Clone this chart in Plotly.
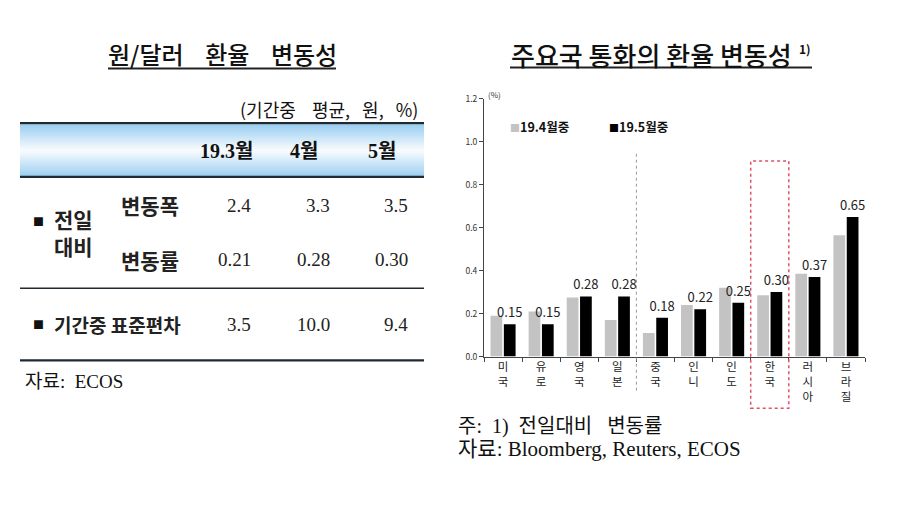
import plotly.graph_objects as go

# ---------------- data ----------------
categories = ["미국", "유로", "영국", "일본", "중국", "인니", "인도", "한국", "러시아", "브라질"]
apr_values = [0.19, 0.21, 0.275, 0.17, 0.11, 0.24, 0.32, 0.285, 0.385, 0.565]
may_values = [0.15, 0.15, 0.28, 0.28, 0.18, 0.22, 0.25, 0.30, 0.37, 0.65]
series_names = ["19.4월중", "19.5월중"]
y_ticks = [0.0, 0.2, 0.4, 0.6, 0.8, 1.0, 1.2]

table_cols = ["19.3월", "4월", "5월"]
row_labels = ["변동폭", "변동률", "기간중 표준편차"]
row_values = [["2.4", "3.3", "3.5"], ["0.21", "0.28", "0.30"], ["3.5", "10.0", "9.4"]]

W, H = 900, 507
KR = "Noto Sans CJK KR"
SERIF = "Liberation Serif, Noto Sans CJK KR"


def px(x):
    return x / W


def py(y):
    return 1 - y / H


# plot area (pixels)
PL, PR, PT, PB = 484, 865, 94, 358
xdom = [px(PL), px(PR)]
ydom = [py(PB), py(PT)]
ymax = 1.2


def cat_x(i):
    return xdom[0] + (i + 0.5) / len(categories) * (xdom[1] - xdom[0])


def val_y(v):
    return ydom[0] + v / ymax * (ydom[1] - ydom[0])


fig = go.Figure()
fig.add_trace(go.Bar(x=categories, y=apr_values, name=series_names[0],
                     marker=dict(color="#c3c3c3", line=dict(width=0)), showlegend=False))
fig.add_trace(go.Bar(x=categories, y=may_values, name=series_names[1],
                     marker=dict(color="#000000", line=dict(width=0)), showlegend=False,
                     text=[f"{v:.2f}" for v in may_values], textposition="outside",
                     textfont=dict(family=KR, size=13, color="#222"),
                     constraintext="none", cliponaxis=False))

shapes = []
ann = []

# ---------- right chart decorations ----------
div_x = (cat_x(3) + cat_x(4)) / 2
shapes.append(dict(type="line", xref="paper", yref="paper", x0=div_x, x1=div_x,
                   y0=py(393), y1=val_y(0.945),
                   line=dict(color="#999", width=1, dash="dot")))
k = categories.index("한국")
bx0 = (cat_x(k - 1) + cat_x(k)) / 2
bx1 = (cat_x(k) + cat_x(k + 1)) / 2
shapes.append(dict(type="rect", xref="paper", yref="paper", x0=bx0, x1=bx1,
                   y0=py(411), y1=val_y(0.91),
                   line=dict(color="#e0506a", width=1.5, dash="dot")))

# legend (as text)
ann.append(dict(xref="paper", yref="paper", x=px(508), y=py(122), xanchor="left", yanchor="middle",
                text="<span style='color:#c3c3c3;font-size:10px'>■</span>" + series_names[0], showarrow=False,
                font=dict(family=KR, size=12.5, color="#111", weight="bold")))
ann.append(dict(xref="paper", yref="paper", x=px(607), y=py(122), xanchor="left", yanchor="middle",
                text="<span style='color:#000;font-size:10px'>■</span>" + series_names[1], showarrow=False,
                font=dict(family=KR, size=12.5, color="#111", weight="bold")))
ann.append(dict(xref="paper", yref="paper", x=px(486), y=py(90), xanchor="left", yanchor="middle",
                text="(%)", showarrow=False, font=dict(family=KR, size=8, color="#333")))

# right title
ann.append(dict(xref="paper", yref="paper", x=px(509), y=py(49), xanchor="left", yanchor="middle",
                text="주요국 통화의 환율 변동성",
                showarrow=False, font=dict(family=KR, size=26, color="#111", weight=500)))
ann.append(dict(xref="paper", yref="paper", x=px(797), y=py(42), xanchor="left", yanchor="middle",
                text="1)", showarrow=False, font=dict(family=KR, size=12, color="#111", weight="bold")))
shapes.append(dict(type="line", xref="paper", yref="paper", x0=px(510), x1=px(812),
                   y0=py(62), y1=py(62), line=dict(color="#222", width=2)))

# right notes
ann.append(dict(xref="paper", yref="paper", x=px(456), y=py(430), xanchor="left", yanchor="middle",
                text="주:&nbsp; 1)&nbsp; 전일대비&nbsp;&nbsp; 변동률", showarrow=False,
                font=dict(family=SERIF, size=20, color="#111")))
ann.append(dict(xref="paper", yref="paper", x=px(456), y=py(453), xanchor="left", yanchor="middle",
                text="자료: Bloomberg, Reuters, ECOS", showarrow=False,
                font=dict(family=SERIF, size=21, color="#111")))

# ---------- left table ----------
ann.append(dict(xref="paper", yref="paper", x=px(222), y=py(48), xanchor="center", yanchor="middle",
                text="원/달러&nbsp;&nbsp;&nbsp; 환율&nbsp;&nbsp;&nbsp; 변동성", showarrow=False,
                font=dict(family=KR, size=24, color="#111", weight=500)))
shapes.append(dict(type="line", xref="paper", yref="paper", x0=px(108), x1=px(336),
                   y0=py(63), y1=py(63), line=dict(color="#222", width=2)))
ann.append(dict(xref="paper", yref="paper", x=px(420), y=py(104), xanchor="right", yanchor="middle",
                text="(기간중&nbsp;&nbsp;&nbsp; 평균,&nbsp;&nbsp; 원,&nbsp;&nbsp; %)", showarrow=False,
                font=dict(family=KR, size=18, color="#111")))

TX0, TX1 = 20, 424
top_y, bot_y = 120, 173
n = 27
edge = (155, 207, 242)
mid = (250, 252, 255)
center = 147
half = (bot_y - top_y) / 2
for i in range(n):
    y0 = top_y + (bot_y - top_y) * i / n
    y1 = top_y + (bot_y - top_y) * (i + 1) / n
    t = min(1.0, abs((y0 + y1) / 2 - center) / half)
    c = tuple(int(mid[j] + (edge[j] - mid[j]) * t) for j in range(3))
    shapes.append(dict(type="rect", xref="paper", yref="paper", x0=px(TX0), x1=px(TX1),
                       y0=py(y1 + 0.6), y1=py(y0), line=dict(width=0),
                       fillcolor=f"rgb{c}", layer="below"))
for yy, w in [(119, 2.2), (174, 2.2), (288, 1.6), (362, 2.2)]:
    shapes.append(dict(type="line", xref="paper", yref="paper", x0=px(TX0), x1=px(TX1),
                       y0=py(yy), y1=py(yy), line=dict(color="#1f2a33", width=w)))

col_centers = [226, 304, 382]
col_rights = [253, 332, 410]
for c, name in zip(col_centers, table_cols):
    ann.append(dict(xref="paper", yref="paper", x=px(c), y=py(147), xanchor="center", yanchor="middle",
                    text=f"<b>{name}</b>", showarrow=False,
                    font=dict(family=SERIF, size=20, color="#111")))
row_ys = [203, 259, 325]
for ry, vals in zip(row_ys, row_values):
    for r, v in zip(col_rights, vals):
        ann.append(dict(xref="paper", yref="paper", x=px(r), y=py(ry), xanchor="right", yanchor="middle",
                        text=v, showarrow=False, font=dict(family=SERIF, size=19, color="#222")))
for ry, lab in zip(row_ys[:2], row_labels[:2]):
    ann.append(dict(xref="paper", yref="paper", x=px(150), y=py(ry), xanchor="center", yanchor="middle",
                    text=lab, showarrow=False, font=dict(family=KR, size=21, color="#222", weight="bold")))
ann.append(dict(xref="paper", yref="paper", x=px(31), y=py(219), xanchor="left", yanchor="middle",
                text="■", showarrow=False, font=dict(family=KR, size=11, color="#111")))
ann.append(dict(xref="paper", yref="paper", x=px(52), y=py(231), xanchor="left", yanchor="middle",
                text="전일<br>대비", showarrow=False, align="left",
                font=dict(family=KR, size=21, color="#222", weight="bold")))
ann.append(dict(xref="paper", yref="paper", x=px(31), y=py(325), xanchor="left", yanchor="middle",
                text="■", showarrow=False, font=dict(family=KR, size=11, color="#111")))
ann.append(dict(xref="paper", yref="paper", x=px(52), y=py(325), xanchor="left", yanchor="middle",
                text=row_labels[2], showarrow=False,
                font=dict(family=KR, size=19, color="#222", weight="bold")))
ann.append(dict(xref="paper", yref="paper", x=px(23), y=py(384), xanchor="left", yanchor="middle",
                text="자료:&nbsp; ECOS", showarrow=False, font=dict(family=SERIF, size=19, color="#111")))

fig.update_layout(
    width=W, height=H,
    margin=dict(l=0, r=0, t=0, b=0),
    paper_bgcolor="white", plot_bgcolor="white",
    barmode="group", bargap=0.3, bargroupgap=0.12,
    shapes=shapes, annotations=ann,
    xaxis=dict(domain=xdom, type="category", categoryorder="array", categoryarray=categories,
               tickmode="array", tickvals=categories,
               ticktext=["<br>".join(list(c)) for c in categories],
               tickson="boundaries", ticks="outside", ticklen=4, tickcolor="#444",
               showline=True, linecolor="#444", linewidth=1, showgrid=False,
               tickfont=dict(family=KR, size=11.5, color="#222"), anchor="y"),
    yaxis=dict(domain=ydom, range=[0, ymax], tickvals=y_ticks, tickformat=".1f",
               ticks="outside", ticklen=4, tickcolor="#444", showline=True, linecolor="#444",
               linewidth=1, showgrid=False, zeroline=False,
               tickfont=dict(family=KR, size=8.5, color="#333"), anchor="x"),
)

fig.write_html("out.html")
